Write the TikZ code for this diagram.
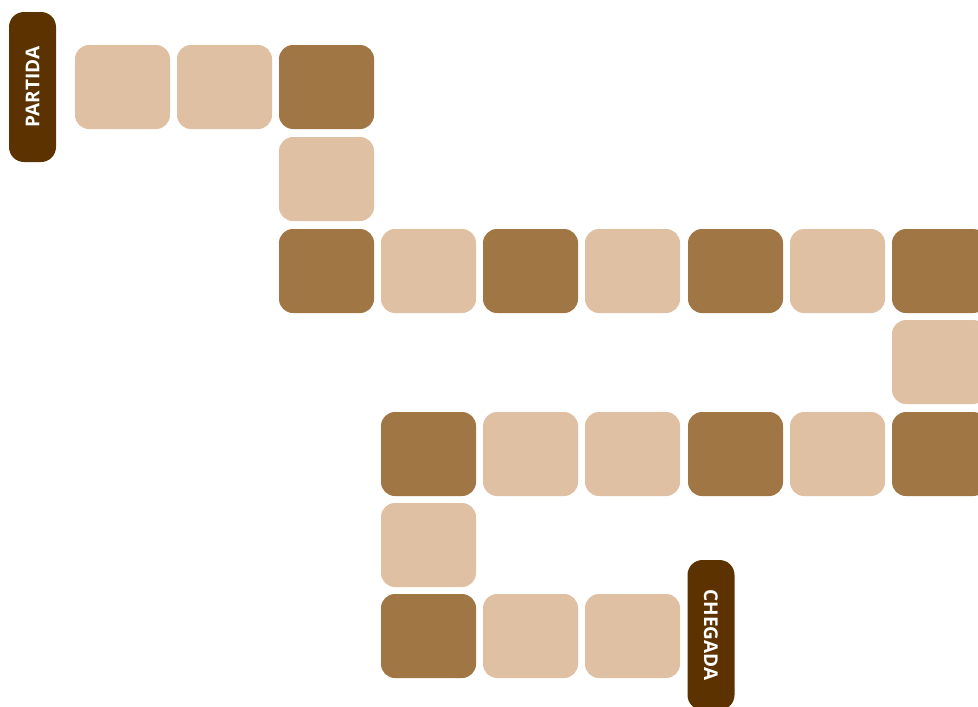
\documentclass[tikz,border=0pt]{standalone}
\usepackage{fontspec}
\setmainfont{Open Sans}
\definecolor{lightsq}{HTML}{E0C0A3}
\definecolor{darksq}{HTML}{A07645}
\definecolor{tabbrown}{HTML}{5C3200}
\begin{document}
\begin{tikzpicture}[x=1pt,y=1pt,
  sq/.style={rectangle,rounded corners=14pt,minimum width=95pt,minimum height=84pt,inner sep=0pt},
  lt/.style={sq,fill=lightsq},
  dk/.style={sq,fill=darksq},
  tab/.style={rectangle,rounded corners=15pt,fill=tabbrown,inner sep=0pt,minimum width=47pt,minimum height=150pt,text=white,font=\fontsize{19}{19}\selectfont\bfseries}]
\clip (0,0) rectangle (978,-707);
\fill[white] (0,0) rectangle (978,-707);
% tabs
\node[tab] (partida) at (32.5,-87) {\rotatebox{90}{PARTIDA}};
\node[tab] (chegada) at (711,-635) {\rotatebox{-90}{CHEGADA}};
% row 1
\node[lt] (a1) at (122.5,-87) {};
\node[lt] (a2) at (224.5,-87) {};
\node[dk] (a3) at (326.5,-87) {};
% row 2
\node[lt] (b3) at (326.5,-179) {};
% row 3
\node[dk] (c3) at (326.5,-271) {};
\node[lt] (c4) at (428.5,-271) {};
\node[dk] (c5) at (530.5,-271) {};
\node[lt] (c6) at (632.5,-271) {};
\node[dk] (c7) at (735.5,-271) {};
\node[lt] (c8) at (837.5,-271) {};
\node[dk] (c9) at (939.5,-271) {};
% row 4
\node[lt] (d9) at (939.5,-362) {};
% row 5
\node[dk] (e4) at (428.5,-454) {};
\node[lt] (e5) at (530.5,-454) {};
\node[lt] (e6) at (632.5,-454) {};
\node[dk] (e7) at (735.5,-454) {};
\node[lt] (e8) at (837.5,-454) {};
\node[dk] (e9) at (939.5,-454) {};
% row 6
\node[lt] (f4) at (428.5,-545) {};
% row 7
\node[dk] (g4) at (428.5,-636) {};
\node[lt] (g5) at (530.5,-636) {};
\node[lt] (g6) at (632.5,-636) {};
\end{tikzpicture}
\end{document}
